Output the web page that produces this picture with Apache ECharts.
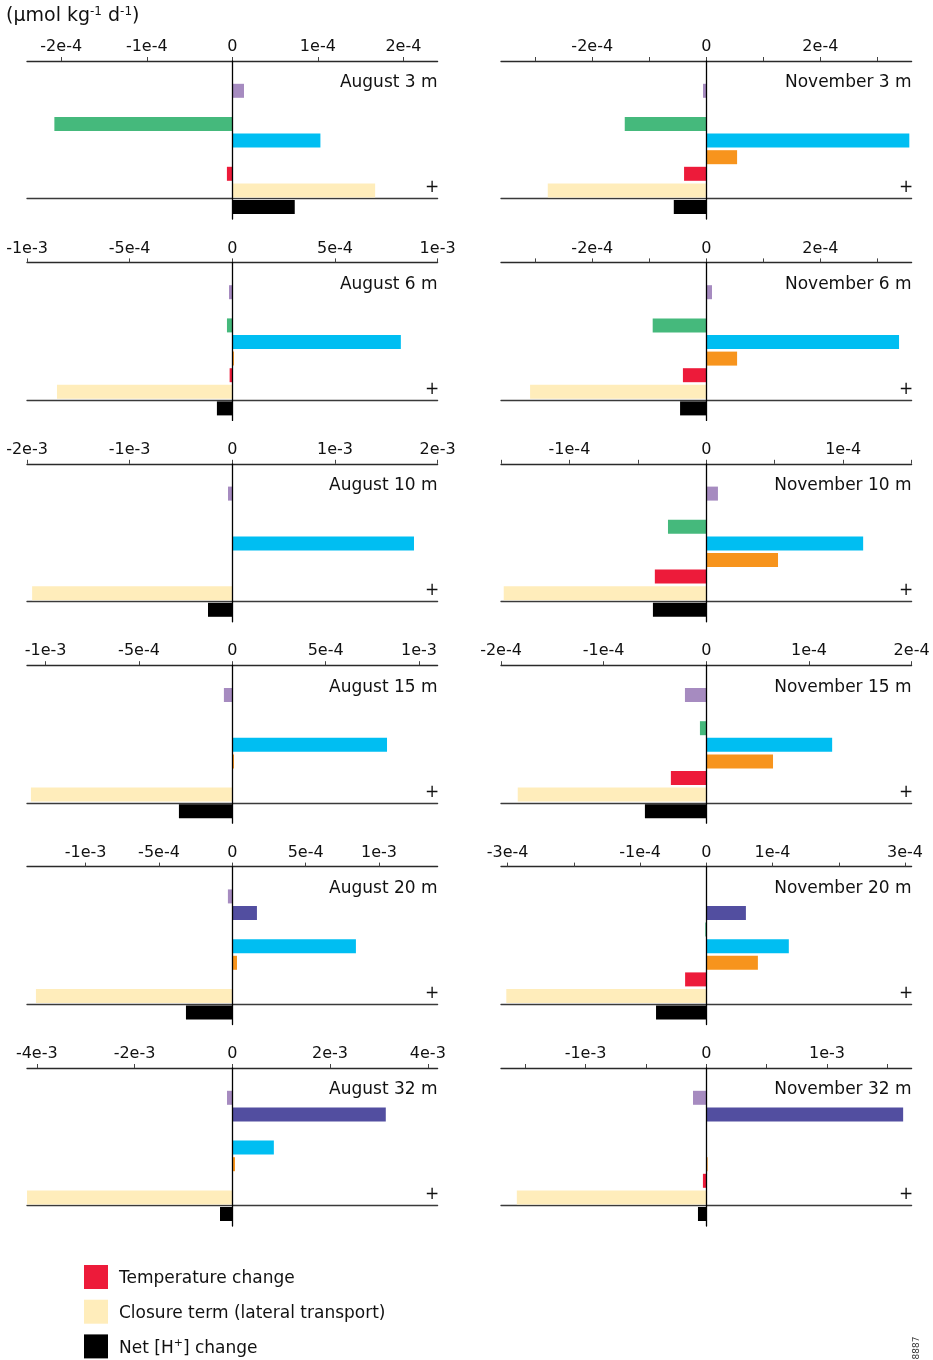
<!DOCTYPE html>
<html>
<head>
<meta charset="utf-8">
<script src="https://cdn.jsdelivr.net/npm/echarts@6/dist/echarts.min.js"></script>
<style>
  html, body { margin: 0; padding: 0; background: #ffffff; }
  #chart { width: 933px; height: 1360px; }
</style>
</head>
<body>
<div id="chart"></div>
<script>
// Budget terms, one bar row each (top to bottom inside every panel)
const terms = [
  'Term 1', 'Term 2', 'Term 3', 'Term 4', 'Term 5',
  'Temperature change', 'Closure term (lateral transport)', 'Net [H+] change'
];
const termColors = ['#A68BC0', '#524EA0', '#45B97C', '#00BEF2', '#F7941D', '#ED1B3A', '#FFEDBB', '#000000'];
const legendTerms = ['Temperature change', 'Closure term (lateral transport)', 'Net [H+] change'];

// Panels in reading order: August (left) / November (right), depth increasing downwards
const panelTitles = [
  'August 3 m', 'November 3 m',
  'August 6 m', 'November 6 m',
  'August 10 m', 'November 10 m',
  'August 15 m', 'November 15 m',
  'August 20 m', 'November 20 m',
  'August 32 m', 'November 32 m'
];

// Half-width of each panel's symmetric x range (µmol kg-1 d-1)
const axisRanges = [2.4e-4, 3.6e-4, 1e-3, 3.6e-4, 2e-3, 1.5e-4, 1.1e-3, 2e-4, 1.4e-3, 3.1e-4, 4.2e-3, 1.7e-3];

// Tick marks and labelled ticks per panel
const tickValues = [
  [-2e-4, -1e-4, 0, 1e-4, 2e-4],
  [-3e-4, -2e-4, -1e-4, 0, 1e-4, 2e-4, 3e-4],
  [-1e-3, -5e-4, 0, 5e-4, 1e-3],
  [-3e-4, -2e-4, -1e-4, 0, 1e-4, 2e-4, 3e-4],
  [-2e-3, -1e-3, 0, 1e-3, 2e-3],
  [-1.5e-4, -1e-4, -5e-5, 0, 5e-5, 1e-4, 1.5e-4],
  [-1e-3, -5e-4, 0, 5e-4, 1e-3],
  [-2e-4, -1e-4, 0, 1e-4, 2e-4],
  [-1e-3, -5e-4, 0, 5e-4, 1e-3],
  [-3e-4, -2e-4, -1e-4, 0, 1e-4, 2e-4, 3e-4],
  [-4e-3, -2e-3, 0, 2e-3, 4e-3],
  [-1.5e-3, -1e-3, -5e-4, 0, 5e-4, 1e-3, 1.5e-3]
];
const labelValues = [
  [-2e-4, -1e-4, 0, 1e-4, 2e-4],
  [-2e-4, 0, 2e-4],
  [-1e-3, -5e-4, 0, 5e-4, 1e-3],
  [-2e-4, 0, 2e-4],
  [-2e-3, -1e-3, 0, 1e-3, 2e-3],
  [-1e-4, 0, 1e-4],
  [-1e-3, -5e-4, 0, 5e-4, 1e-3],
  [-2e-4, -1e-4, 0, 1e-4, 2e-4],
  [-1e-3, -5e-4, 0, 5e-4, 1e-3],
  [-3e-4, -1e-4, 0, 1e-4, 3e-4],
  [-4e-3, -2e-3, 0, 2e-3, 4e-3],
  [-1e-3, 0, 1e-3]
];

// Term values per panel, same order as `terms`
const aug3  = [1.37e-5, 0, -2.08e-4, 1.03e-4, 0, -6.3e-6, 1.67e-4, 7.3e-5];
const nov3  = [-5.8e-6, 0, -1.43e-4, 3.56e-4, 5.4e-5, -3.9e-5, -2.78e-4, -5.7e-5];
const aug6  = [-1.6e-5, 0, -2.6e-5, 8.21e-4, 8e-6, -1.3e-5, -8.54e-4, -7.5e-5];
const nov6  = [1.0e-5, 0, -9.4e-5, 3.38e-4, 5.4e-5, -4.1e-5, -3.09e-4, -4.6e-5];
const aug10 = [-4.2e-5, 0, 0, 1.77e-3, 0, 0, -1.95e-3, -2.37e-4];
const nov10 = [8.5e-6, 0, -2.8e-5, 1.146e-4, 5.24e-5, -3.76e-5, -1.48e-4, -3.9e-5];
const aug15 = [-4.5e-5, 0, 0, 8.29e-4, 9e-6, 0, -1.079e-3, -2.86e-4];
const nov15 = [-2.08e-5, 0, -6.2e-6, 1.226e-4, 6.5e-5, -3.45e-5, -1.837e-4, -5.98e-5];
const aug20 = [-3e-5, 1.68e-4, 0, 8.43e-4, 3.2e-5, 0, -1.339e-3, -3.16e-4];
const nov20 = [0, 5.98e-5, -1.5e-6, 1.246e-4, 7.79e-5, -3.2e-5, -3.02e-4, -7.59e-5];
const aug32 = [-1.09e-4, 3.14e-3, 0, 8.5e-4, 5.5e-5, 0, -4.2e-3, -2.52e-4];
const nov32 = [-1.1e-4, 1.63e-3, 0, 0, 1.1e-5, -2.8e-5, -1.569e-3, -6.9e-5];
const panelValues = [aug3, nov3, aug6, nov6, aug10, nov10, aug15, nov15, aug20, nov20, aug32, nov32];

// ---- layout ----
const FONT = 'DejaVu Sans';
const colLeft = [27, 501];
const plotWidth = 410.6;
const firstAxisY = 61;
const rowStep = 201.4;
const frameHeight = 158;      // extent of the zero line below the top axis
const barTopOffset = 21.5;    // first bar row starts this far below the top axis
const bandHeight = 16.6;

const budgetTerms = terms.slice(0, terms.length - 1);   // rows above the separator
const netTerm = terms.slice(terms.length - 1);          // the net change row below it

const fmtTick = v => (v === 0 ? '0' : v.toExponential());

const grid = [], xAxis = [], yAxis = [], series = [], graphic = [];

const hiddenCategory = (gridIndex, data) => ({
  type: 'category', gridIndex: gridIndex, data: data, inverse: true,
  axisLine: { show: false }, axisTick: { show: false }, axisLabel: { show: false }, splitLine: { show: false }
});

panelValues.forEach((vals, i) => {
  const col = i % 2;
  const row = Math.floor(i / 2);
  const y0 = firstAxisY + row * rowStep;
  const left = colLeft[col];
  const R = axisRanges[i];
  const g = 3 * i;

  // Frame grid: top value axis + vertical zero line
  grid.push({ left: left, top: y0, width: plotWidth, height: frameHeight });
  xAxis.push({
    type: 'value', gridIndex: g, position: 'top', min: -R, max: R,
    axisLine: { show: true, onZero: false, lineStyle: { color: '#2a2a2a', width: 1.3 } },
    axisTick: { show: true, length: 4, customValues: tickValues[i], lineStyle: { color: '#444', width: 1 } },
    axisLabel: {
      show: true, customValues: labelValues[i], formatter: fmtTick,
      fontFamily: FONT, fontSize: 16, color: '#111', margin: 6
    },
    splitLine: { show: false }
  });
  yAxis.push({
    type: 'value', gridIndex: g, min: 0, max: 1, z: 5,
    axisLine: { show: true, onZero: true, lineStyle: { color: '#000', width: 1.3 } },
    axisTick: { show: false }, axisLabel: { show: false }, splitLine: { show: false }
  });

  // Budget grid: one row per term; its bottom axis line separates the net change row
  const upperTop = y0 + barTopOffset;
  grid.push({ left: left, top: upperTop, width: plotWidth, height: bandHeight * budgetTerms.length });
  xAxis.push({
    type: 'value', gridIndex: g + 1, position: 'bottom', min: -R, max: R,
    axisLine: { show: true, onZero: false, lineStyle: { color: '#3a3a3a', width: 1.3 } },
    axisTick: { show: false }, axisLabel: { show: false }, splitLine: { show: false }
  });
  yAxis.push(hiddenCategory(g + 1, budgetTerms));

  // Net change grid
  grid.push({ left: left, top: upperTop + bandHeight * budgetTerms.length, width: plotWidth, height: bandHeight });
  xAxis.push({ type: 'value', gridIndex: g + 2, min: -R, max: R, show: false });
  yAxis.push(hiddenCategory(g + 2, netTerm));

  budgetTerms.forEach((term, k) => {
    series.push({
      type: 'bar', name: term,
      xAxisIndex: g + 1, yAxisIndex: g + 1,
      stack: 'panel' + i, barWidth: 14,
      itemStyle: { color: termColors[k] },
      silent: true,
      data: budgetTerms.map((_, j) => (j === k ? vals[k] : '-'))
    });
  });
  const n = terms.length - 1;
  series.push({
    type: 'bar', name: terms[n],
    xAxisIndex: g + 2, yAxisIndex: g + 2,
    barWidth: 14,
    itemStyle: { color: termColors[n] },
    silent: true,
    data: [vals[n]]
  });

  // Panel title and "+" marker
  graphic.push({
    type: 'text', x: left + plotWidth, y: y0 + 22,
    style: { text: panelTitles[i], fontFamily: FONT, fontSize: 17, fill: '#111', align: 'right', verticalAlign: 'middle' }
  });
  graphic.push({
    type: 'text', x: left + plotWidth - 5.5, y: y0 + 127,
    style: { text: '+', fontFamily: FONT, fontSize: 17, fill: '#111', align: 'center', verticalAlign: 'middle' }
  });
});

// Unit label, top left
graphic.push({
  type: 'text', x: 6, y: 16,
  style: {
    text: '{a|(μmol kg}{s|-1}{a| d}{s|-1}{a|)}',
    verticalAlign: 'middle', align: 'left',
    rich: {
      a: { fontFamily: FONT, fontSize: 19, fill: '#111', lineHeight: 23 },
      s: { fontFamily: FONT, fontSize: 12, fill: '#111', lineHeight: 23, verticalAlign: 'top', padding: [1, 0, 0, 0] }
    }
  }
});

// Figure number, rotated
graphic.push({
  type: 'text', x: 917, y: 1348, rotation: Math.PI / 2,
  style: { text: '8887', fontFamily: FONT, fontSize: 9, fill: '#333', align: 'center', verticalAlign: 'middle' }
});

const chart = echarts.init(document.getElementById('chart'), null, { renderer: 'canvas' });
chart.setOption({
  animation: false,
  backgroundColor: '#ffffff',
  grid: grid,
  xAxis: xAxis,
  yAxis: yAxis,
  series: series,
  graphic: graphic,
  legend: {
    data: legendTerms,
    orient: 'vertical',
    left: 84, top: 1265, height: 95,
    padding: 0,
    itemWidth: 24, itemHeight: 24, itemGap: 10.7,
    icon: 'rect',
    selectedMode: false,
    formatter: name => (name === 'Net [H+] change'
      ? '{t|Net [H}{s|+}{t|] change}'
      : '{t|' + name + '}'),
    textStyle: {
      padding: [4, 0, 0, 6],
      rich: {
        t: { fontFamily: FONT, fontSize: 17, color: '#111', lineHeight: 22 },
        s: { fontFamily: FONT, fontSize: 11, color: '#111', lineHeight: 22, verticalAlign: 'top' }
      }
    }
  }
});
</script>
</body>
</html>
